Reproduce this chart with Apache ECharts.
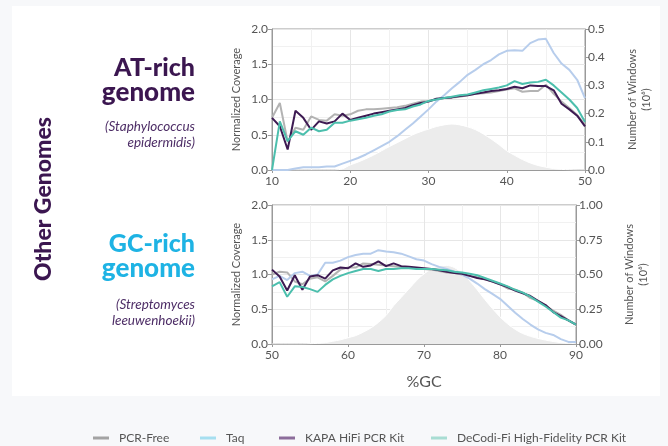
<!DOCTYPE html>
<html><head><meta charset="utf-8">
<script src="https://cdn.jsdelivr.net/npm/echarts@6/dist/echarts.min.js"></script>
<style>html,body{margin:0;padding:0;background:#f7f8fa}#c{width:668px;height:446px}</style>
</head><body><div id="c"></div>
<script>
// ---------- data ----------
const seriesNames = ['PCR-Free', 'Taq', 'KAPA HiFi PCR Kit', 'DeCodi-Fi High-Fidelity PCR Kit'];

// AT-rich genome (Staphylococcus epidermidis), %GC 10..50
const atGC = [10,11,12,13,14,15,16,17,18,19,20,21,22,23,24,25,26,27,28,29,30,31,32,33,34,35,36,37,38,39,40,41,42,43,44,45,46,47,48,49,50];
const atPcrFree = [0.74,0.95,0.40,0.60,0.57,0.76,0.71,0.70,0.79,0.77,0.79,0.84,0.86,0.86,0.87,0.88,0.89,0.91,0.94,0.97,0.98,1.00,1.02,1.03,1.04,1.06,1.08,1.09,1.10,1.12,1.14,1.16,1.11,1.12,1.12,1.21,1.08,0.97,0.88,0.78,0.64];
const atTaq = [0.00,0.00,0.00,0.02,0.04,0.04,0.04,0.05,0.05,0.09,0.13,0.17,0.22,0.28,0.34,0.40,0.48,0.57,0.66,0.76,0.86,0.97,1.06,1.16,1.25,1.35,1.42,1.50,1.56,1.64,1.69,1.70,1.69,1.80,1.85,1.86,1.66,1.51,1.42,1.28,1.02];
const atKapa = [0.74,0.62,0.29,0.84,0.74,0.57,0.69,0.66,0.69,0.80,0.71,0.74,0.77,0.80,0.82,0.84,0.86,0.88,0.92,0.95,0.97,1.01,1.02,1.03,1.05,1.06,1.08,1.10,1.12,1.13,1.15,1.18,1.16,1.20,1.19,1.19,1.13,0.94,0.86,0.77,0.62];
const atDecodi = [0.00,0.69,0.41,0.55,0.50,0.60,0.55,0.57,0.67,0.67,0.70,0.72,0.74,0.77,0.79,0.83,0.85,0.86,0.90,0.93,0.98,1.00,1.02,1.04,1.06,1.07,1.10,1.13,1.15,1.17,1.20,1.26,1.22,1.24,1.25,1.28,1.20,1.10,1.00,0.88,0.68];
const atWindows = [0,0,0,0,0,0,0,0,0.000,0.004,0.018,0.028,0.040,0.053,0.068,0.083,0.097,0.111,0.125,0.136,0.145,0.154,0.160,0.163,0.160,0.153,0.143,0.128,0.110,0.090,0.068,0.052,0.037,0.025,0.016,0.010,0.005,0.002,0.001,0,0];

// GC-rich genome (Streptomyces leeuwenhoekii), %GC 50..90
const gcGC = [50,51,52,53,54,55,56,57,58,59,60,61,62,63,64,65,66,67,68,69,70,71,72,73,74,75,76,77,78,79,80,81,82,83,84,85,86,87,88,89,90];
const gcPcrFree = [1.00,1.04,1.03,0.90,0.86,0.94,0.96,0.90,0.98,1.07,1.10,1.10,1.16,1.15,1.14,1.13,1.12,1.11,1.10,1.09,1.08,1.07,1.05,1.03,1.02,1.00,0.98,0.96,0.93,0.90,0.86,0.80,0.78,0.74,0.66,0.62,0.55,0.48,0.42,0.34,0.28];
const gcTaq = [0.93,0.98,0.92,1.02,1.04,0.98,1.00,1.17,1.17,1.20,1.25,1.28,1.30,1.30,1.35,1.33,1.32,1.30,1.26,1.22,1.20,1.15,1.11,1.08,1.04,1.00,0.94,0.87,0.79,0.72,0.65,0.55,0.45,0.36,0.28,0.21,0.16,0.13,0.07,0.03,0.03];
const gcKapa = [1.07,0.97,0.77,0.99,0.78,0.97,0.99,0.94,1.06,1.10,1.09,1.16,1.11,1.13,1.19,1.12,1.16,1.12,1.11,1.10,1.09,1.08,1.06,1.04,1.02,1.01,0.98,0.95,0.93,0.90,0.86,0.82,0.77,0.73,0.69,0.62,0.56,0.46,0.40,0.34,0.28];
const gcDecodi = [0.83,0.89,0.68,0.83,0.82,0.79,0.75,0.85,0.93,0.98,1.02,1.05,1.08,1.08,1.05,1.08,1.08,1.09,1.09,1.08,1.08,1.08,1.07,1.06,1.04,1.03,1.01,0.99,0.95,0.91,0.87,0.83,0.78,0.74,0.68,0.61,0.54,0.46,0.38,0.34,0.28];
const gcWindows = [0,0,0,0,0,0.002,0.005,0.010,0.020,0.030,0.045,0.060,0.085,0.115,0.155,0.205,0.275,0.335,0.395,0.455,0.505,0.540,0.560,0.565,0.550,0.510,0.455,0.390,0.320,0.255,0.195,0.145,0.105,0.075,0.055,0.040,0.028,0.018,0.010,0.005,0.002];

// ---------- styling ----------
const lineColors = ['#b3b3b3', '#b7cdec', '#3d1a52', '#4cbfad'];
const legendColors = ['#a3a3a3', '#a6dff0', '#8c6d9b', '#a8ddd3'];
const legendLeft = [93, 200, 279, 431];
const FONT = 'Lato, "DejaVu Sans", sans-serif';
const axisGray = '#9a9a9a';
const labelColor = '#555';

function pairs(xs, ys) { return xs.map((x, i) => [x, ys[i]]); }

function makeAxes(gi, xmin, xmax, rmax, rint, rdec, showXName) {
  const x = {
    type: 'value', gridIndex: gi, min: xmin, max: xmax, interval: 10,
    axisLine: { show: true, lineStyle: { color: axisGray } },
    axisTick: { show: true, length: 3, lineStyle: { color: axisGray } },
    axisLabel: { color: labelColor, fontSize: 12, fontFamily: FONT, margin: 5 },
    splitLine: { show: true, lineStyle: { color: '#e6e6e6' } },
    minorTick: { show: false, splitNumber: 2 },
    minorSplitLine: { show: true, lineStyle: { color: '#f1f1f1' } },
    name: showXName ? '%GC' : '', nameLocation: 'middle', nameGap: 30,
    nameTextStyle: { color: labelColor, fontSize: 16, fontFamily: FONT }
  };
  const yl = {
    type: 'value', gridIndex: gi, min: 0, max: 2, interval: 0.5, position: 'left',
    axisLine: { show: true, lineStyle: { color: axisGray } },
    axisTick: { show: true, length: 4, lineStyle: { color: axisGray } },
    axisLabel: { color: labelColor, fontSize: 12, fontFamily: FONT, margin: 4, formatter: v => v.toFixed(1) },
    splitLine: { show: true, lineStyle: { color: '#e6e6e6' } },
    minorTick: { show: false, splitNumber: 2 },
    minorSplitLine: { show: true, lineStyle: { color: '#f1f1f1' } },
    name: 'Normalized Coverage', nameLocation: 'middle', nameGap: 30, nameRotate: 90,
    nameTextStyle: { color: labelColor, fontSize: 11, fontFamily: FONT }
  };
  const yr = {
    type: 'value', gridIndex: gi, min: 0, max: rmax, interval: rint, position: 'right',
    axisLine: { show: true, lineStyle: { color: axisGray } },
    axisTick: { show: true, length: 4, lineStyle: { color: axisGray } },
    axisLabel: { color: labelColor, fontSize: 12, fontFamily: FONT, margin: 3, formatter: v => v.toFixed(rdec) },
    splitLine: { show: false },
    name: 'Number of Windows\n(10⁶)', nameLocation: 'middle', nameGap: rdec === 1 ? 40 : 46, nameRotate: 90,
    nameTextStyle: { color: labelColor, fontSize: 11, fontFamily: FONT, lineHeight: 14, align: 'center' }
  };
  return { x, yl, yr };
}

const axTop = makeAxes(0, 10, 50, 0.5, 0.1, 1, false);
const axBot = makeAxes(1, 50, 90, 1.0, 0.25, 2, true);

function lineSeries(name, xi, yi, xs, ys, color) {
  return {
    name, type: 'line', xAxisIndex: xi, yAxisIndex: yi, data: pairs(xs, ys),
    showSymbol: false, symbol: 'none', lineStyle: { width: 2, color }, itemStyle: { color },
    z: 3, silent: true, animation: false
  };
}
function areaSeries(xi, yi, xs, ys) {
  return {
    name: 'windows', type: 'line', xAxisIndex: xi, yAxisIndex: yi, data: pairs(xs, ys),
    showSymbol: false, symbol: 'none', smooth: 0.3,
    lineStyle: { width: 1, color: '#ffffff' }, areaStyle: { color: '#ececec', opacity: 1 },
    z: 1, silent: true, animation: false
  };
}

const atSets = [atPcrFree, atTaq, atKapa, atDecodi];
const gcSets = [gcPcrFree, gcTaq, gcKapa, gcDecodi];
const allSeries = [areaSeries(0, 1, atGC, atWindows), areaSeries(1, 3, gcGC, gcWindows)];
seriesNames.forEach((n, i) => allSeries.push(lineSeries(n, 0, 0, atGC, atSets[i], lineColors[i])));
seriesNames.forEach((n, i) => allSeries.push(lineSeries(n, 1, 2, gcGC, gcSets[i], lineColors[i])));

function txt(x, y, text, opts) {
  return { type: 'text', x, y, rotation: opts.rotation || 0, silent: true,
    style: Object.assign({ text, fontFamily: FONT, align: 'right', verticalAlign: 'middle' }, opts.style) };
}
const purple = '#3b1650';
const cyan = '#1eb3e4';
const italicColor = '#4d2d66';

const legends = seriesNames.map((n, i) => ({
  left: legendLeft[i], top: 432, padding: 0, itemWidth: 16, itemHeight: 3, icon: 'rect',
  selectedMode: false,
  textStyle: { color: labelColor, fontSize: 12, fontFamily: FONT, padding: [0, 0, 0, 5] },
  data: [{ name: n, itemStyle: { color: legendColors[i] } }]
}));

const chart = echarts.init(document.getElementById('c'), null, { renderer: 'canvas' });
chart.setOption({
  animation: false,
  backgroundColor: '#f7f8fa',
  grid: [
    { left: 272, right: 83, top: 29, height: 141, show: true, borderColor: axisGray, borderWidth: 1, backgroundColor: 'transparent' },
    { left: 272, right: 92, top: 205, height: 139, show: true, borderColor: axisGray, borderWidth: 1, backgroundColor: 'transparent' }
  ],
  xAxis: [axTop.x, axBot.x],
  yAxis: [axTop.yl, axTop.yr, axBot.yl, axBot.yr],
  legend: legends,
  series: allSeries,
  graphic: [
    { type: 'rect', shape: { x: 12, y: 6, width: 648, height: 390 }, style: { fill: '#ffffff' }, z: -10, silent: true },
    txt(195, 68, 'AT-rich', { style: { fontSize: 25, fontWeight: 900, fill: purple } }),
    txt(195, 93, 'genome', { style: { fontSize: 26, fontWeight: 900, fill: purple } }),
    txt(195, 127, '(Staphylococcus', { style: { fontSize: 13.5, fontStyle: 'italic', fill: italicColor } }),
    txt(195, 143, 'epidermidis)', { style: { fontSize: 13.5, fontStyle: 'italic', fill: italicColor } }),
    txt(195, 244, 'GC-rich', { style: { fontSize: 25, fontWeight: 900, fill: cyan } }),
    txt(195, 269, 'genome', { style: { fontSize: 26, fontWeight: 900, fill: cyan } }),
    txt(195, 305, '(Streptomyces', { style: { fontSize: 13.5, fontStyle: 'italic', fill: italicColor } }),
    txt(195, 321, 'leeuwenhoekii)', { style: { fontSize: 13.5, fontStyle: 'italic', fill: italicColor } }),
    txt(44, 199, 'Other Genomes', { rotation: Math.PI / 2, style: { fontSize: 23, fontWeight: 900, fill: purple, align: 'center' } })
  ]
});
</script></body></html>
